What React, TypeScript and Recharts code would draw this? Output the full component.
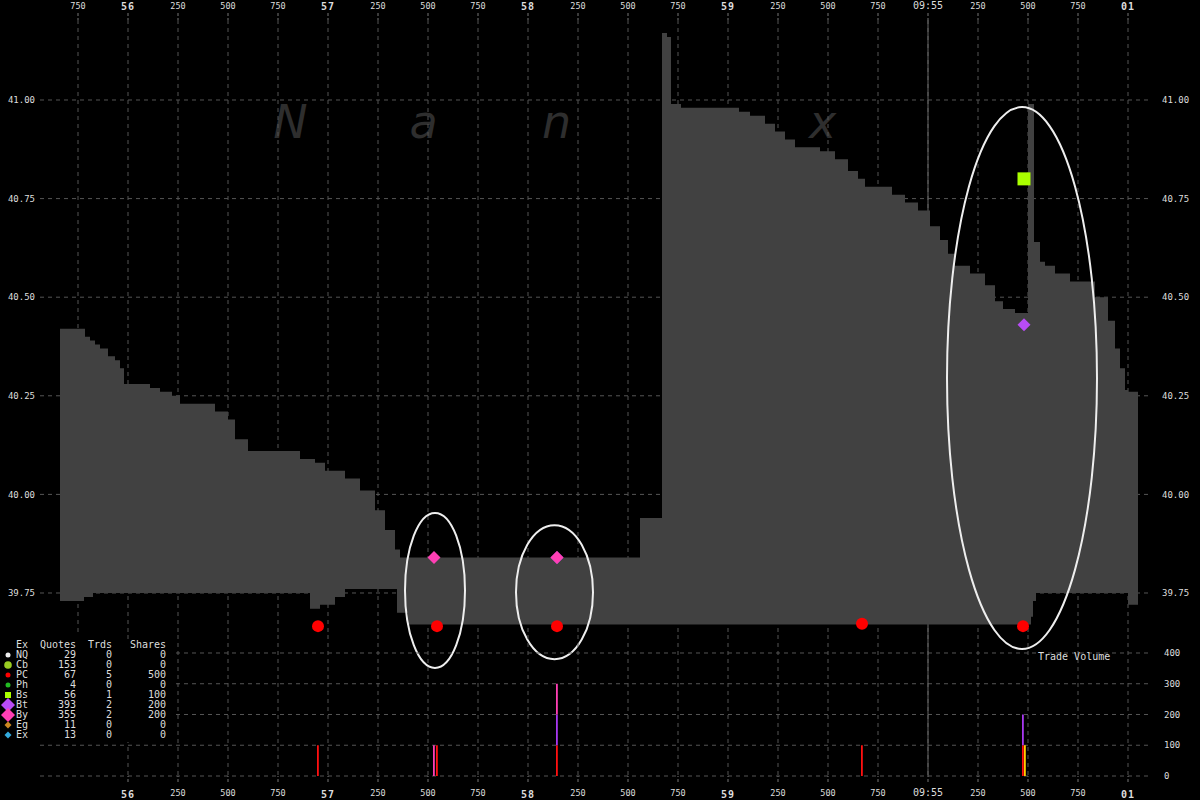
import React from 'react'
import {
  ComposedChart,
  Area,
  Scatter,
  Bar,
  XAxis,
  YAxis,
  CartesianGrid,
  ReferenceArea,
} from 'recharts'

// all times are ms after 09:54:55.000
const quoteTimes = [
  660, 780, 785, 810, 825, 835, 860, 900, 935, 960, 980, 1110, 1160, 1220, 1260, 1435, 1500, 1535,
  1600, 1860, 1910, 1935, 1960, 1985, 2035, 2085, 2160, 2235, 2285, 2335, 2345, 2360, 2400, 3560,
  3670, 3695, 3715, 3765, 4055, 4110, 4185, 4235, 4285, 4335, 4460, 4535, 4600, 4650, 4685, 4820,
  4885, 4950, 5010, 5060, 5100, 5135, 5210, 5285, 5335, 5375, 5435, 5500, 5515, 5525, 5530, 5540,
  5560, 5585, 5635, 5710, 5835, 5900, 5935, 5960, 5985, 6000, 6050,
]
const askPrices = [
  40.42, 40.42, 40.4, 40.39, 40.39, 40.38, 40.37, 40.35, 40.34, 40.32, 40.28, 40.27, 40.26, 40.25,
  40.23, 40.21, 40.19, 40.14, 40.11, 40.09, 40.09, 40.08, 40.08, 40.06, 40.06, 40.04, 40.01, 39.96,
  39.91, 39.86, 39.86, 39.84, 39.84, 39.94, 41.17, 41.16, 40.99, 40.98, 40.97, 40.96, 40.94, 40.92,
  40.9, 40.88, 40.87, 40.85, 40.82, 40.8, 40.78, 40.76, 40.74, 40.72, 40.68, 40.645, 40.61, 40.58,
  40.56, 40.53, 40.49, 40.47, 40.46, 40.99, 40.99, 40.99, 40.64, 40.64, 40.59, 40.58, 40.56, 40.54,
  40.5, 40.44, 40.37, 40.32, 40.265, 40.26, 40.26,
]
const bidPrices = [
  39.73, 39.74, 39.74, 39.74, 39.75, 39.75, 39.75, 39.75, 39.75, 39.75, 39.75, 39.75, 39.75, 39.75,
  39.75, 39.75, 39.75, 39.75, 39.75, 39.75, 39.71, 39.71, 39.72, 39.72, 39.74, 39.76, 39.76, 39.76,
  39.76, 39.76, 39.7, 39.7, 39.67, 39.67, 39.67, 39.67, 39.67, 39.67, 39.67, 39.67, 39.67, 39.67,
  39.67, 39.67, 39.67, 39.67, 39.67, 39.67, 39.67, 39.67, 39.67, 39.67, 39.67, 39.67, 39.67, 39.67,
  39.67, 39.67, 39.67, 39.67, 39.67, 39.67, 39.69, 39.73, 39.73, 39.75, 39.75, 39.75, 39.75, 39.75,
  39.75, 39.75, 39.75, 39.75, 39.75, 39.72, 39.72,
]

const timeTicks = [
  750, 1000, 1250, 1500, 1750, 2000, 2250, 2500, 2750, 3000, 3250, 3500, 3750, 4000, 4250, 4500,
  4750, 5000, 5250, 5500, 5750, 6000,
]
const bottomTicks = timeTicks.slice(1)
const minuteMark = [5000]
const priceTicks = [39.75, 40, 40.25, 40.5, 40.75, 41]
const volumeTicks = [0, 100, 200, 300, 400]

// trades by exchange
const pcTimes = [1950, 2545, 3145, 4670, 5475]
const pcPrices = [39.666, 39.666, 39.666, 39.672, 39.666]
const byTimes = [2530, 3145]
const byPrices = [39.84, 39.84]
const btTimes = [3145, 5480]
const btPrices = [39.84, 40.43]
const bsTimes = [5480]
const bsPrices = [40.8]

const volTimes = [1950, 2530, 2545, 3145, 4670, 5475, 5485]
const pcVolume = [100, 0, 100, 100, 100, 100, 0]
const btVolume = [0, 0, 0, 100, 0, 100, 0]
const byVolume = [0, 100, 0, 100, 0, 0, 0]
const bsVolume = [0, 0, 0, 0, 0, 0, 100]

// circled regions (time from/to, price low/high)
const circleFrom = [2385, 2940, 5095]
const circleTo = [2685, 3325, 5845]
const circleLow = [39.56, 39.582, 39.608]
const circleHigh = [39.953, 39.922, 40.982]

// legend table
const exchanges = ['NQ', 'Cb', 'PC', 'Ph', 'Bs', 'Bt', 'By', 'Eg', 'Ex']
const quoteCounts = [29, 153, 67, 4, 56, 393, 355, 11, 13]
const tradeCounts = [0, 0, 5, 0, 1, 2, 2, 0, 0]
const shareCounts = [0, 0, 500, 0, 100, 200, 200, 0, 0]

const TIME_DOMAIN: [number, number] = [560, 6110]
const PRICE_DOMAIN: [number, number] = [39.6435, 41.2028]
const MONO = '"DejaVu Sans Mono", monospace'
const GRID = '#555'

const quotes = quoteTimes.map((t, i) => ({ t, range: [bidPrices[i], askPrices[i]] }))
const toPoints = (ts: number[], ps: number[]) => ts.map((t, i) => ({ t, price: ps[i] }))
const volumes = volTimes.map((t, i) => ({
  t,
  pc: pcVolume[i],
  bt: btVolume[i],
  by: byVolume[i],
  bs: bsVolume[i],
}))

function tickText(t: number) {
  if (t === 5000) return { text: '09:55', major: false, big: true }
  if (t % 1000 === 0) {
    const s = (55 + t / 1000) % 60
    return { text: String(s).padStart(2, '0'), major: true, big: false }
  }
  return { text: String(t % 1000), major: false, big: false }
}

function TimeTick(props: any) {
  const { x, y, payload, top } = props
  const { text, major, big } = tickText(payload.value)
  const size = major ? 10 : big ? 10 : 8.5
  const dy = top ? (major ? -1 : -2) : major ? 14 : 12
  return (
    <text
      x={x}
      y={y + dy}
      textAnchor="middle"
      fill="#ddd"
      fontFamily={MONO}
      fontSize={size}
      fontWeight={major ? 'bold' : 'normal'}
      letterSpacing={major ? 1 : 0}
    >
      {text}
    </text>
  )
}

const dot = (color: string, r: number) => (p: any) => (
  <circle cx={p.cx} cy={p.cy} r={r} fill={color} />
)
const diamond = (color: string, h: number) => (p: any) => (
  <path
    d={`M${p.cx},${p.cy - h}L${p.cx + h},${p.cy}L${p.cx},${p.cy + h}L${p.cx - h},${p.cy}Z`}
    fill={color}
  />
)
const square = (color: string, h: number) => (p: any) => (
  <rect x={p.cx - h} y={p.cy - h} width={h * 2} height={h * 2} fill={color} />
)
const ellipse = (p: any) => (
  <ellipse
    cx={p.x + p.width / 2}
    cy={p.y + p.height / 2}
    rx={Math.abs(p.width) / 2}
    ry={Math.abs(p.height) / 2}
    fill="none"
    stroke="#eee"
    strokeWidth={2}
  />
)

function LegendMarker({ i }: { i: number }) {
  const c = 8
  const m = 5
  const shapes = [
    <circle cx={c} cy={m} r={2.5} fill="#eee" />,
    <circle cx={c} cy={m} r={3.8} fill="#99cc22" />,
    <circle cx={c} cy={m} r={2.5} fill="#ff0000" />,
    <circle cx={c} cy={m} r={2.5} fill="#22bb22" />,
    <rect x={c - 3} y={m - 3} width={6} height={6} fill="#aaff00" />,
    <path d={`M${c},${m - 7}L${c + 7},${m}L${c},${m + 7}L${c - 7},${m}Z`} fill="#b84cf5" />,
    <path d={`M${c},${m - 7}L${c + 7},${m}L${c},${m + 7}L${c - 7},${m}Z`} fill="#ff3fb4" />,
    <path d={`M${c},${m - 3.5}L${c + 3.5},${m}L${c},${m + 3.5}L${c - 3.5},${m}Z`} fill="#cc8822" />,
    <path d={`M${c},${m - 3.5}L${c + 3.5},${m}L${c},${m + 3.5}L${c - 3.5},${m}Z`} fill="#33aadd" />,
  ]
  return (
    <svg width={16} height={10} style={{ overflow: 'visible', display: 'block' }}>
      {shapes[i]}
    </svg>
  )
}

function Legend() {
  const cell = (w: number, align: 'left' | 'right') => ({
    width: w,
    textAlign: align,
    display: 'inline-block',
  })
  const row = (cells: React.ReactNode[], key: string | number, marker?: React.ReactNode) => (
    <div key={key} style={{ display: 'flex', height: 10, lineHeight: '10px' }}>
      <div style={{ width: 16 }}>{marker}</div>
      <span style={cell(18, 'left')}>{cells[0]}</span>
      <span style={cell(42, 'right')}>{cells[1]}</span>
      <span style={cell(36, 'right')}>{cells[2]}</span>
      <span style={cell(54, 'right')}>{cells[3]}</span>
    </div>
  )
  return (
    <div
      style={{
        position: 'absolute',
        left: 0,
        top: 639,
        width: 172,
        height: 103,
        background: '#000',
        color: '#ddd',
        fontFamily: MONO,
        fontSize: 10,
        paddingTop: 1,
        boxSizing: 'border-box',
      }}
    >
      {row(['Ex', 'Quotes', 'Trds', 'Shares'], 'h')}
      {exchanges.map((ex, i) =>
        row([ex, quoteCounts[i], tradeCounts[i], shareCounts[i]], ex, <LegendMarker i={i} />),
      )}
    </div>
  )
}

const watermark = ['N', 'a', 'n', 'e', 'x']

export default function App() {
  return (
    <div
      style={{
        position: 'fixed',
        left: 0,
        top: 0,
        width: 1200,
        height: 800,
        background: '#000',
        overflow: 'hidden',
      }}
    >
      <div style={{ position: 'absolute', left: 224, top: 95, display: 'flex' }}>
        {watermark.map((l, i) => (
          <span
            key={i}
            style={{
              width: 133,
              textAlign: 'center',
              fontFamily: '"DejaVu Sans", sans-serif',
              fontStyle: 'italic',
              fontSize: 46,
              color: '#2e2e2e',
            }}
          >
            {l}
          </span>
        ))}
      </div>

      <div style={{ position: 'absolute', left: 0, top: 0 }}>
        <ComposedChart
          width={1200}
          height={800}
          data={quotes}
          margin={{ top: 0, right: 0, bottom: 165, left: 0 }}
        >
          <CartesianGrid stroke={GRID} strokeDasharray="4 4" syncWithTicks />
          <CartesianGrid
            stroke="#666"
            horizontal={false}
            verticalValues={minuteMark}
            syncWithTicks
          />
          <XAxis
            dataKey="t"
            type="number"
            orientation="top"
            domain={TIME_DOMAIN}
            allowDataOverflow
            ticks={timeTicks}
            interval={0}
            height={20}
            tickSize={7}
            axisLine={false}
            tickLine={{ stroke: '#777', strokeDasharray: '3 2' }}
            tick={<TimeTick top />}
          />
          <YAxis
            type="number"
            domain={PRICE_DOMAIN}
            allowDataOverflow
            ticks={priceTicks}
            interval={0}
            width={40}
            tickSize={0}
            tickMargin={5}
            axisLine={false}
            tickFormatter={(v: number) => v.toFixed(2)}
            tick={{ fill: '#ddd', fontSize: 9, fontFamily: MONO }}
          />
          <YAxis
            yAxisId="r"
            orientation="right"
            type="number"
            domain={PRICE_DOMAIN}
            allowDataOverflow
            ticks={priceTicks}
            interval={0}
            width={50}
            tickSize={0}
            tickMargin={12}
            axisLine={false}
            tickFormatter={(v: number) => v.toFixed(2)}
            tick={{ fill: '#ddd', fontSize: 9, fontFamily: MONO, textAnchor: 'start' }}
          />
          <Area
            dataKey="range"
            type="stepAfter"
            stroke="none"
            fill="#414141"
            fillOpacity={1}
            isAnimationActive={false}
          />
          <Scatter
            data={toPoints(pcTimes, pcPrices)}
            dataKey="price"
            shape={dot('#ff0000', 6)}
            isAnimationActive={false}
          />
          <Scatter
            data={toPoints(btTimes, btPrices)}
            dataKey="price"
            shape={diamond('#b84cf5', 6.5)}
            isAnimationActive={false}
          />
          <Scatter
            data={toPoints(byTimes, byPrices)}
            dataKey="price"
            shape={diamond('#ff3fb4', 6.5)}
            isAnimationActive={false}
          />
          <Scatter
            data={toPoints(bsTimes, bsPrices)}
            dataKey="price"
            shape={square('#aaff00', 6.5)}
            isAnimationActive={false}
          />
          {circleFrom.map((t, i) => (
            <ReferenceArea
              key={i}
              x1={t}
              x2={circleTo[i]}
              y1={circleLow[i]}
              y2={circleHigh[i]}
              ifOverflow="visible"
              shape={ellipse}
            />
          ))}
        </ComposedChart>
      </div>

      <div style={{ position: 'absolute', left: 0, top: 635 }}>
        <ComposedChart
          width={1200}
          height={165}
          data={volumes}
          margin={{ top: 0, right: 0, bottom: 0, left: 40 }}
        >
          <CartesianGrid stroke={GRID} strokeDasharray="4 4" syncWithTicks />
          <CartesianGrid
            stroke="#666"
            horizontal={false}
            verticalValues={minuteMark}
            syncWithTicks
          />
          <XAxis
            dataKey="t"
            type="number"
            domain={TIME_DOMAIN}
            allowDataOverflow
            ticks={bottomTicks}
            interval={0}
            height={24}
            tickSize={6}
            axisLine={false}
            tickLine={{ stroke: '#777', strokeDasharray: '3 2' }}
            tick={<TimeTick />}
          />
          <YAxis
            orientation="right"
            type="number"
            domain={[0, 458.5]}
            allowDataOverflow
            ticks={volumeTicks}
            interval={0}
            width={50}
            tickSize={0}
            tickMargin={14}
            axisLine={false}
            tick={{ fill: '#ddd', fontSize: 9, fontFamily: MONO, textAnchor: 'start' }}
          />
          <Bar dataKey="pc" stackId="v" fill="#ff1010" barSize={2} isAnimationActive={false} />
          <Bar dataKey="bt" stackId="v" fill="#a838f0" barSize={2} isAnimationActive={false} />
          <Bar dataKey="by" stackId="v" fill="#ff3fb4" barSize={2} isAnimationActive={false} />
          <Bar dataKey="bs" stackId="v" fill="#ffd000" barSize={2} isAnimationActive={false} />
        </ComposedChart>
      </div>

      <Legend />
      <div
        style={{
          position: 'absolute',
          left: 1038,
          top: 651,
          color: '#ddd',
          fontFamily: MONO,
          fontSize: 10,
        }}
      >
        Trade Volume
      </div>
    </div>
  )
}
